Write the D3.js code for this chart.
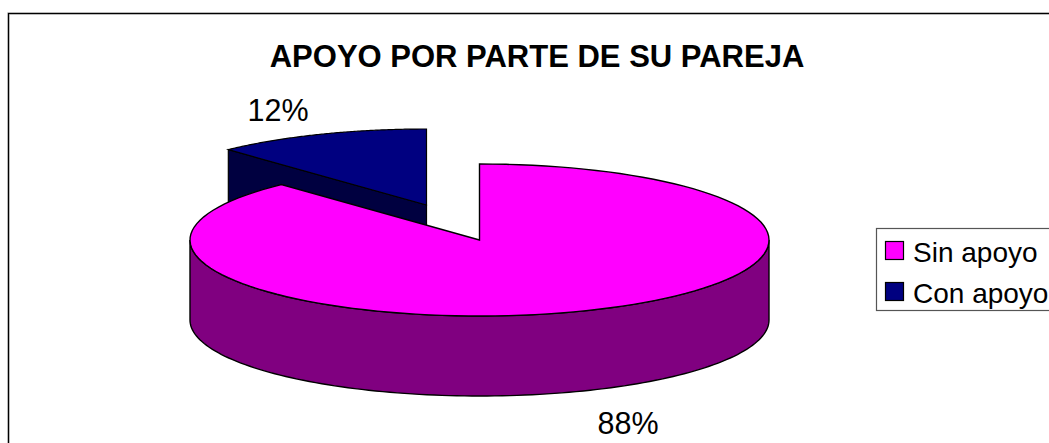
<!DOCTYPE html>
<html><head><meta charset="utf-8">
<script src="https://cdnjs.cloudflare.com/ajax/libs/d3/7.8.5/d3.min.js"></script>
<style>html,body{margin:0;padding:0;background:#fff}svg{display:block}text{font-family:"Liberation Sans",Arial,sans-serif;fill:#000}</style>
</head><body><script>
const categories = ["Sin apoyo", "Con apoyo"];
const values = [88, 12];
const labels = ["88%", "12%"];
const colors = ["#FF00FF", "#000080"];
const wallColors = ["#800080", "#000040"];
const titleText = "APOYO POR PARTE DE SU PAREJA";

const W = 1049, H = 443;
const svg = d3.select("body").append("svg").attr("width", W).attr("height", H);

svg.append("rect").attr("x", 8.5).attr("y", 13.5).attr("width", W).attr("height", H)
  .attr("fill", "#fff").attr("stroke", "#bbb").attr("stroke-width", 2.4);
svg.append("rect").attr("x", 8.5).attr("y", 13.5).attr("width", W).attr("height", H)
  .attr("fill", "none").attr("stroke", "#000").attr("stroke-width", 1.2);

svg.append("text").attr("x", 537).attr("y", 67).attr("text-anchor", "middle")
  .attr("font-size", 31).attr("font-weight", "bold").text(titleText);

const cx = 479.5, cy = 240, rx = 289.5, ry = 76, depth = 80;
const arcs = d3.pie().sort(null).value(d => d)(values);
const pt = (a, ox = 0, oy = 0) => [cx + ox + rx * Math.sin(a), cy + oy - ry * Math.cos(a)];
const sample = (a0, a1, ox = 0, oy = 0) => d3.range(0, 121).map(i => pt(a0 + (a1 - a0) * i / 120, ox, oy));
const line = d3.line();

// exploded slice
const ex = -53, ey = -35;
const b = arcs[1];
const apex = [cx + ex, cy + ey];
const lead = pt(b.startAngle, ex, ey);
svg.append("path").attr("d", line([apex, lead, [lead[0], lead[1] + depth], [apex[0], apex[1] + depth]]) + "Z")
  .attr("fill", wallColors[1]).attr("stroke", "#000").attr("stroke-width", 1.2);
svg.append("path").attr("d", line([apex, ...sample(b.startAngle, b.endAngle, ex, ey)]) + "Z")
  .attr("fill", colors[1]).attr("stroke", "#000").attr("stroke-width", 1.2);

// main slice wall, then top
const wall = sample(Math.PI / 2, 3 * Math.PI / 2);
const wallLow = wall.map(p => [p[0], p[1] + depth]).reverse();
svg.append("path").attr("d", line([...wall, ...wallLow]) + "Z")
  .attr("fill", wallColors[0]).attr("stroke", "#000").attr("stroke-width", 1.4);
const a = arcs[0];
svg.append("path").attr("d", line([[cx, cy], ...sample(a.startAngle, a.endAngle)]) + "Z")
  .attr("fill", colors[0]).attr("stroke", "#000").attr("stroke-width", 1.4);

// data labels
svg.append("text").attr("x", 628).attr("y", 434).attr("text-anchor", "middle").attr("font-size", 30.5).text(labels[0]);
svg.append("text").attr("x", 278).attr("y", 121).attr("text-anchor", "middle").attr("font-size", 30.5).text(labels[1]);

// legend
svg.append("rect").attr("x", 876.5).attr("y", 228.5).attr("width", 200).attr("height", 82)
  .attr("fill", "#fff").attr("stroke", "#555").attr("stroke-width", 1.2);
const rowY = d3.scalePoint().domain(categories).range([250.5, 291.5]);
categories.forEach((c, i) => {
  svg.append("rect").attr("x", 885.5).attr("y", rowY(c) - 9).attr("width", 18).attr("height", 18)
    .attr("fill", colors[i]).attr("stroke", "#000").attr("stroke-width", 1.2);
  svg.append("text").attr("x", 913).attr("y", rowY(c) + 11).attr("font-size", 28).text(c);
});
</script></body></html>
